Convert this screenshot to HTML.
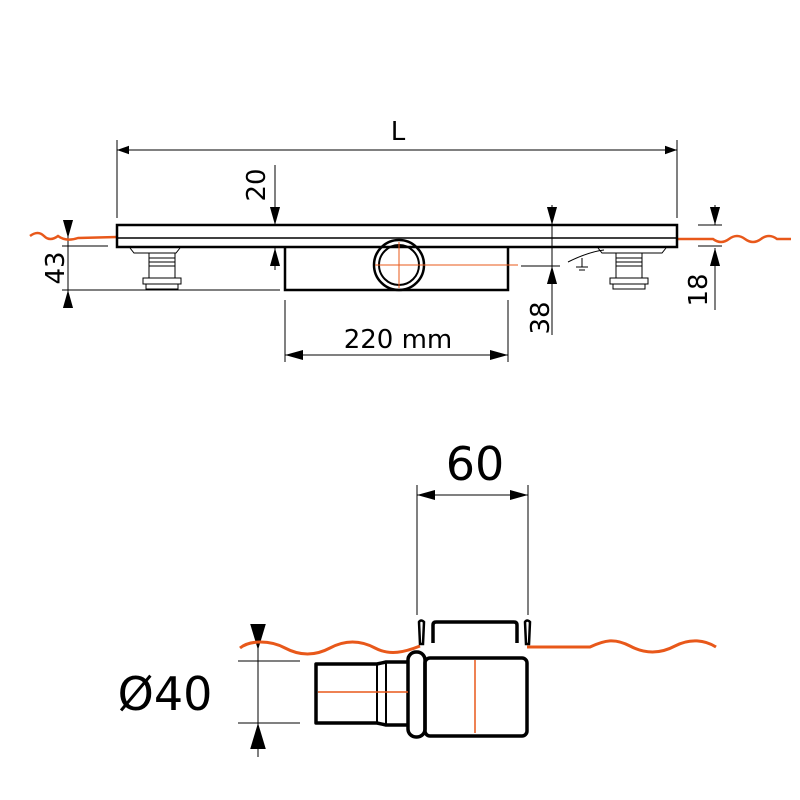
<!DOCTYPE html>
<html><head><style>body{margin:0;background:#fff}svg{display:block}</style></head><body>
<svg width="800" height="800" viewBox="0 0 800 800" xmlns="http://www.w3.org/2000/svg" font-family="'DejaVu Sans','Liberation Sans',sans-serif">
<defs>
<marker id="a" viewBox="0 0 10 10" refX="10" refY="5" markerWidth="12" markerHeight="12" orient="auto-start-reverse" markerUnits="userSpaceOnUse"><path d="M0,1.5 L10,5 L0,8.5Z" fill="#000"/></marker>
<marker id="b" viewBox="0 0 10 10" refX="10" refY="5" markerWidth="18" markerHeight="18" orient="auto-start-reverse" markerUnits="userSpaceOnUse"><path d="M0,2.2 L10,5 L0,7.8Z" fill="#000"/></marker>
<marker id="c" viewBox="0 0 10 10" refX="10" refY="5" markerWidth="26" markerHeight="26" orient="auto-start-reverse" markerUnits="userSpaceOnUse"><path d="M0,2 L10,5 L0,8Z" fill="#000"/></marker>
</defs>
<g fill="none" stroke="#000" stroke-width="1">
<line x1="117" y1="140" x2="117" y2="218"/><line x1="677" y1="140" x2="677" y2="218"/>
<line x1="117" y1="150" x2="677" y2="150" marker-start="url(#a)" marker-end="url(#a)"/>
<line x1="275" y1="165" x2="275" y2="225" marker-end="url(#b)"/><line x1="275" y1="270" x2="275" y2="248" marker-end="url(#b)"/>
<line x1="68" y1="222" x2="68" y2="238" marker-end="url(#b)"/><line x1="68" y1="308" x2="68" y2="290" marker-end="url(#b)"/>
<line x1="68" y1="238" x2="68" y2="290"/>
<line x1="62" y1="246" x2="108" y2="246"/><line x1="62" y1="290" x2="280" y2="290"/>
<line x1="552" y1="205" x2="552" y2="225" marker-end="url(#b)"/><line x1="552" y1="335" x2="552" y2="266" marker-end="url(#b)"/>
<line x1="552" y1="225" x2="552" y2="266"/>
<line x1="521" y1="266" x2="560" y2="266"/>
<line x1="715" y1="205" x2="715" y2="225" marker-end="url(#b)"/><line x1="715" y1="310" x2="715" y2="248" marker-end="url(#b)"/>
<line x1="698" y1="225" x2="722" y2="225"/><line x1="698" y1="246" x2="722" y2="246"/>
<line x1="285" y1="300" x2="285" y2="362"/><line x1="508" y1="300" x2="508" y2="362"/>
<line x1="285" y1="355" x2="508" y2="355" marker-start="url(#b)" marker-end="url(#b)"/>
</g>
<path d="M30,236 q8,-6 14,0 t14,0 q8,6 20,2 l39,-1" fill="none" stroke="#e8581a" stroke-width="2.5"/>
<path d="M677,239 l36,0 q8,6 16,0 t16,0 t16,0 t16,0 l14,0" fill="none" stroke="#e8581a" stroke-width="2.5"/>
<g fill="none" stroke="#000">
<rect x="117" y="225" width="560" height="22" stroke-width="2.5"/>
<line x1="117" y1="238" x2="677" y2="238" stroke-width="1.5"/>
<path d="M285,247 L285,290 L508,290 L508,247" stroke-width="2.5"/>
<circle cx="399" cy="265" r="25" stroke-width="2.5"/><circle cx="399" cy="265" r="20" stroke-width="2"/>
<g stroke-width="1"><path d="M130,248 l4,5 h42 l4,-5"/><rect x="149" y="253" width="26" height="25"/>
<line x1="149" y1="258" x2="175" y2="258"/><line x1="149" y1="262" x2="175" y2="262"/><line x1="149" y1="266" x2="175" y2="266"/>
<rect x="143" y="278" width="38" height="6"/><rect x="146" y="284" width="32" height="5"/>
<path d="M598,248 l4,5 h60 l4,-5"/><rect x="616" y="253" width="26" height="25"/>
<line x1="616" y1="258" x2="642" y2="258"/><line x1="616" y1="262" x2="642" y2="262"/><line x1="616" y1="266" x2="642" y2="266"/>
<rect x="610" y="278" width="38" height="6"/><rect x="613" y="284" width="32" height="5"/>
<path d="M568,262 q20,-10 36,-12"/><line x1="582" y1="258" x2="582" y2="267"/><line x1="576" y1="267" x2="588" y2="267"/><line x1="579" y1="270" x2="585" y2="270"/></g>
</g>
<line x1="375" y1="265" x2="518" y2="265" stroke="#e8581a" stroke-width="1"/>
<line x1="399" y1="242" x2="399" y2="288" stroke="#e8581a" stroke-width="1"/>
<g font-size="26" fill="#000">
<text x="398" y="140" text-anchor="middle">L</text>
<text transform="translate(265,185) rotate(-90)" text-anchor="middle">20</text>
<text transform="translate(64,268) rotate(-90)" text-anchor="middle">43</text>
<text transform="translate(549,318) rotate(-90)" text-anchor="middle">38</text>
<text transform="translate(707,290) rotate(-90)" text-anchor="middle">18</text>
<text x="398" y="348" text-anchor="middle">220 mm</text>
</g>
<g fill="none" stroke="#000" stroke-width="1">
<line x1="417" y1="485" x2="417" y2="615"/><line x1="528" y1="485" x2="528" y2="615"/>
<line x1="417" y1="495" x2="528" y2="495" marker-start="url(#b)" marker-end="url(#b)"/>
<line x1="258" y1="628" x2="258" y2="650" marker-end="url(#c)"/><line x1="258" y1="757" x2="258" y2="723" marker-end="url(#c)"/>
<line x1="258" y1="650" x2="258" y2="723"/>
<line x1="238" y1="661" x2="300" y2="661"/><line x1="238" y1="723" x2="300" y2="723"/>
</g>
<path d="M240,648 C250,640 270,640 285,648 S315,656 330,648 S360,640 375,648 S405,652 420,646 M527,647 L590,647 C605,640 615,638 630,646 S660,654 675,646 S705,640 716,647" fill="none" stroke="#e8581a" stroke-width="3"/>
<g fill="none" stroke="#000" stroke-width="3.5" stroke-linejoin="round">
<rect x="425" y="658" width="102" height="78" rx="5"/>
<path d="M433,643 V625 q0,-3 3,-3 h78 q3,0 3,3 V643"/>
<rect x="408" y="652" width="17" height="85" rx="8"/>
<path d="M408,662 H386 L377,664 H316 V723 H377 L386,725 H408"/>
<line x1="377" y1="664" x2="377" y2="723" stroke-width="2"/><line x1="386" y1="662" x2="386" y2="725" stroke-width="2"/>
</g>
<path d="M419,622 q2,-3 5,0 l-1,22 h-3Z M525,622 q2,-3 5,0 l-1,22 h-3Z" fill="#fff" stroke="#000" stroke-width="2.5"/>
<line x1="318" y1="692" x2="408" y2="692" stroke="#e8581a" stroke-width="1.5"/>
<line x1="475" y1="660" x2="475" y2="733" stroke="#e8581a" stroke-width="1.5"/>
<g font-size="46" fill="#000">
<text x="475" y="480" text-anchor="middle">60</text>
<text x="165" y="710" text-anchor="middle">Ø40</text>
</g>
</svg>
</body></html>
